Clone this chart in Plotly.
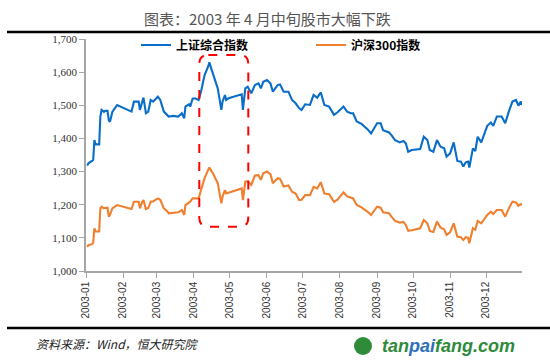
import plotly.graph_objects as go

dates = [
    "2003-01-02", "2003-01-03", "2003-01-06", "2003-01-07", "2003-01-08", "2003-01-09",
    "2003-01-12", "2003-01-13", "2003-01-14", "2003-01-16", "2003-01-17", "2003-01-19",
    "2003-01-20", "2003-01-21", "2003-01-23", "2003-01-27", "2003-02-08", "2003-02-10",
    "2003-02-14", "2003-02-15", "2003-02-17", "2003-02-18", "2003-02-20", "2003-02-22",
    "2003-02-24", "2003-02-26", "2003-03-02", "2003-03-04", "2003-03-07", "2003-03-10",
    "2003-03-11", "2003-03-15", "2003-03-19", "2003-03-22", "2003-03-24", "2003-03-25",
    "2003-03-28", "2003-03-29", "2003-03-31", "2003-04-02", "2003-04-05", "2003-04-07",
    "2003-04-10", "2003-04-13", "2003-04-14", "2003-04-16", "2003-04-17", "2003-04-21",
    "2003-04-24", "2003-04-25", "2003-04-27", "2003-04-28", "2003-04-30", "2003-05-07",
    "2003-05-11", "2003-05-12", "2003-05-14", "2003-05-16", "2003-05-19", "2003-05-22",
    "2003-05-25", "2003-05-27", "2003-05-29", "2003-06-01", "2003-06-04", "2003-06-06",
    "2003-06-10", "2003-06-12", "2003-06-15", "2003-06-19", "2003-06-22", "2003-06-25",
    "2003-06-28", "2003-06-30", "2003-07-03", "2003-07-07", "2003-07-10", "2003-07-13",
    "2003-07-16", "2003-07-19", "2003-07-23", "2003-07-27", "2003-07-30", "2003-08-04",
    "2003-08-07", "2003-08-10", "2003-08-12", "2003-08-15", "2003-08-19", "2003-08-24",
    "2003-08-27", "2003-09-01", "2003-09-04", "2003-09-06", "2003-09-11", "2003-09-13",
    "2003-09-16", "2003-09-20", "2003-09-23", "2003-09-25", "2003-09-27", "2003-09-30",
    "2003-10-07", "2003-10-10", "2003-10-13", "2003-10-15", "2003-10-18", "2003-10-21",
    "2003-10-24", "2003-10-27", "2003-10-29", "2003-11-01", "2003-11-04", "2003-11-07",
    "2003-11-10", "2003-11-12", "2003-11-14", "2003-11-16", "2003-11-17", "2003-11-20",
    "2003-11-22", "2003-11-24", "2003-11-27", "2003-12-02", "2003-12-05", "2003-12-07",
    "2003-12-10", "2003-12-14", "2003-12-17", "2003-12-20", "2003-12-23", "2003-12-26",
    "2003-12-28", "2003-12-30", "2003-12-31",
]

shanghai = [
    1318, 1325, 1332, 1335, 1395, 1382,
    1382, 1466, 1486, 1480, 1483, 1483,
    1455, 1450, 1480, 1501, 1481, 1511,
    1511, 1486, 1511, 1523, 1476, 1481,
    1516, 1511, 1526, 1516, 1481, 1471,
    1466, 1468, 1466, 1476, 1461, 1496,
    1503, 1496, 1520, 1521, 1516, 1541,
    1591, 1617, 1630, 1606, 1596, 1551,
    1486, 1511, 1531, 1516, 1521, 1529,
    1533, 1486, 1551, 1556, 1536, 1561,
    1566, 1551, 1571, 1576, 1566, 1541,
    1561, 1563, 1541, 1541, 1516, 1506,
    1491, 1486, 1503, 1501, 1531, 1523,
    1539, 1501, 1496, 1471, 1479, 1496,
    1481, 1476, 1476, 1451, 1444, 1428,
    1415, 1446, 1446, 1425, 1418, 1410,
    1395, 1388, 1392, 1385, 1360, 1365,
    1368, 1405, 1395, 1365, 1360, 1395,
    1375, 1370, 1345, 1355, 1388, 1332,
    1330, 1315, 1328, 1330, 1312, 1370,
    1362, 1405, 1388, 1438, 1448, 1438,
    1466, 1466, 1446, 1481, 1511, 1516,
    1499, 1511, 1501,
]

hs300 = [
    1073, 1078, 1081, 1085, 1129, 1119,
    1119, 1189, 1194, 1189, 1190, 1191,
    1164, 1169, 1189, 1199, 1187, 1209,
    1209, 1189, 1209, 1214, 1187, 1190,
    1209, 1210, 1219, 1215, 1189, 1180,
    1174, 1176, 1177, 1184, 1169, 1199,
    1205, 1209, 1219, 1219, 1219, 1244,
    1280, 1305, 1312, 1300, 1295, 1265,
    1204, 1224, 1244, 1234, 1236, 1244,
    1249, 1214, 1270, 1270, 1260, 1288,
    1289, 1275, 1295, 1300, 1292, 1265,
    1280, 1278, 1255, 1258, 1239, 1234,
    1214, 1215, 1229, 1229, 1254, 1249,
    1268, 1234, 1232, 1209, 1215, 1237,
    1225, 1222, 1219, 1199, 1192, 1179,
    1169, 1194, 1191, 1177, 1174, 1164,
    1151, 1146, 1148, 1139, 1121, 1123,
    1129, 1154, 1144, 1121, 1118, 1149,
    1131, 1126, 1109, 1117, 1144, 1104,
    1102, 1094, 1102, 1100, 1084, 1129,
    1124, 1151, 1144, 1169, 1179, 1172,
    1184, 1184, 1164, 1189, 1209, 1207,
    1197, 1202, 1199,
]

month_ticks = ["2003-%02d-01" % m for m in range(1, 13)]
series_names = ["上证综合指数", "沪深300指数"]

BLUE = "#0A6EC8"
ORANGE = "#F07F2E"
FONT = "Noto Sans CJK SC"

fig = go.Figure()
fig.add_trace(go.Scatter(x=dates, y=shanghai, mode="lines", name=series_names[0],
                         line=dict(color=BLUE, width=2.1)))
fig.add_trace(go.Scatter(x=dates, y=hs300, mode="lines", name=series_names[1],
                         line=dict(color=ORANGE, width=2.1)))

W, H = 550, 363
L, R, T, B = 86, 28, 39, 92
pw, ph = W - L - R, H - T - B


def px(xp):
    return (xp - L) / pw


def py(yp):
    return (H - B - yp) / ph


# rounded dashed highlight box (paper coords)
x0, x1 = px(199.3), px(248.3)
y0, y1 = py(226.7), py(55)
rx, ry = 9 / pw, 9 / ph
path = (f"M {x0+rx},{y1} L {x1-rx},{y1} Q {x1},{y1} {x1},{y1-ry} "
        f"L {x1},{y0+ry} Q {x1},{y0} {x1-rx},{y0} L {x0+rx},{y0} "
        f"Q {x0},{y0} {x0},{y0+ry} L {x0},{y1-ry} Q {x0},{y1} {x0+rx},{y1} Z")

shapes = [
    dict(type="path", path=path, xref="paper", yref="paper",
         line=dict(color="#FF0000", width=2, dash="dash")),
    dict(type="line", xref="paper", yref="paper", x0=px(7), x1=px(550),
         y0=py(32), y1=py(32), line=dict(color="black", width=2.5)),
    dict(type="line", xref="paper", yref="paper", x0=px(7), x1=px(550),
         y0=py(328), y1=py(328), line=dict(color="black", width=2.5)),
    dict(type="circle", xref="paper", yref="paper", x0=px(354), x1=px(372),
         y0=py(355), y1=py(337), fillcolor="#2E8B3A", line=dict(width=0)),
]

annotations = [
    dict(text="图表：2003 年 4 月中旬股市大幅下跌", xref="paper", yref="paper",
         x=px(267), y=py(18), xanchor="center", yanchor="middle", showarrow=False,
         font=dict(family=FONT, size=15, color="#555555")),
    dict(text="<i>资料来源：Wind，恒大研究院</i>", xref="paper", yref="paper",
         x=px(34), y=py(343), xanchor="left", yanchor="middle", showarrow=False,
         font=dict(family=FONT, size=12, color="#222222")),
    dict(text="<b><i><span style='color:#2E8B3A'>tan</span><span style='color:#2F6FB8'>pai</span>"
              "<span style='color:#2E8B3A'>fang.com</span></i></b>",
         xref="paper", yref="paper", x=px(380), y=py(346), xanchor="left",
         yanchor="middle", showarrow=False,
         font=dict(family="Liberation Sans", size=18)),
]

fig.update_layout(
    width=W, height=H,
    margin=dict(l=L, r=R, t=T, b=B, pad=0, autoexpand=False),
    paper_bgcolor="white", plot_bgcolor="white",
    showlegend=True,
    legend=dict(orientation="h", x=px(136), y=py(45), xanchor="left", yanchor="middle",
                font=dict(family=FONT, size=12, color="black", weight="bold"),
                bgcolor="rgba(0,0,0,0)", entrywidth=130, itemwidth=30),
    shapes=shapes,
    annotations=annotations,
    font=dict(family=FONT),
)

fig.update_xaxes(
    type="date", range=["2003-01-01", "2003-12-31"],
    tickvals=month_ticks, tickformat="%Y-%m", tickangle=-90,
    ticks="outside", ticklen=5, tickcolor="#A6A6A6",
    showline=True, linecolor="#A6A6A6", linewidth=1.5, showgrid=False, zeroline=False,
    tickfont=dict(family="Liberation Sans", size=10, color="#333333"),
)
fig.update_yaxes(
    range=[1000, 1700], dtick=100, tickformat=",d",
    ticks="outside", ticklen=5, tickcolor="#A6A6A6",
    showline=True, linecolor="#A6A6A6", linewidth=1.5, showgrid=False, zeroline=False,
    tickfont=dict(family="Liberation Serif", size=11, color="#333333"),
)

fig.write_html("out.html", config={"displayModeBar": False},
               post_script="document.body.style.margin='0';")
